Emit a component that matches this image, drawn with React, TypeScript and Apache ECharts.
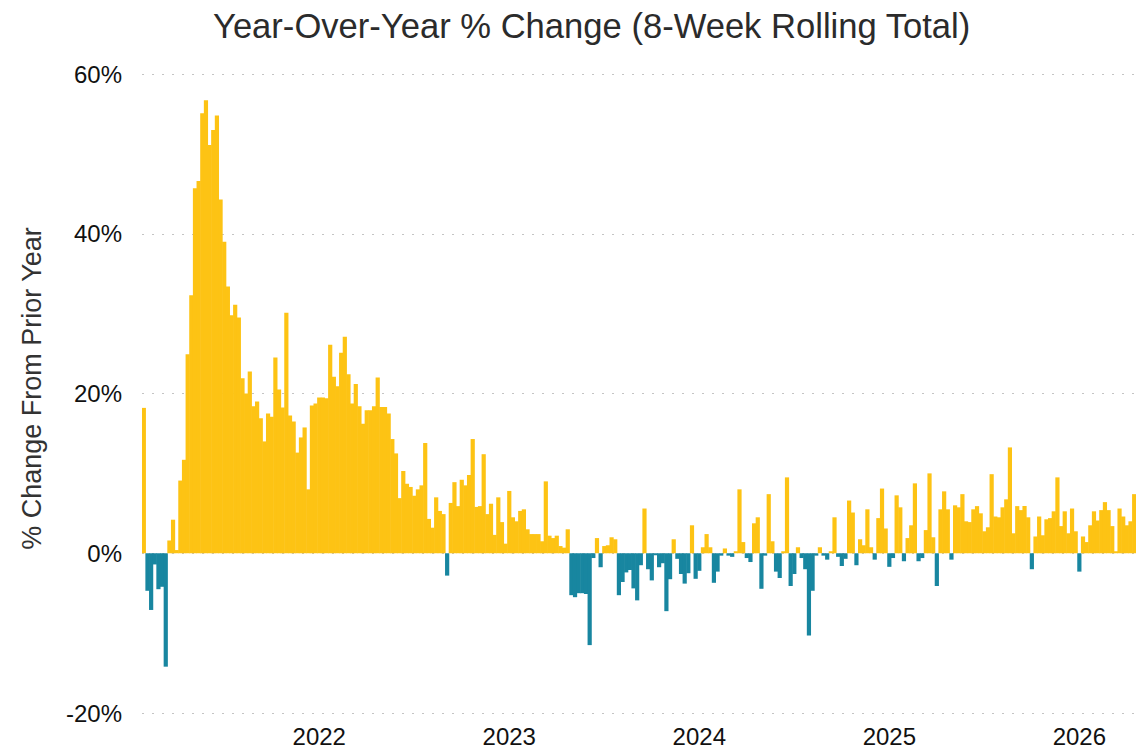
import React, { useEffect, useRef } from "react";
import * as echarts from "echarts";

// Weekly series start (first bar's week)
const START_YEAR = 2021;
const START_MONTH = 0; // January
const START_DAY = 30;

// Year-over-year % change, 8-week rolling total (one value per week)
const values2021a = [
  18.2, -4.7, -7.1, -1.4, -4.5, -4.2, -14.2, 1.6, 4.2, 0.4, 9.1, 11.7, 24.9, 32.3,
  45.7, 46.6, 55.1, 56.7, 51.1, 53.0, 54.8, 44.3, 39.0, 33.4, 29.8, 31.1, 29.5, 21.9,
];
const values2021b = [
  20.0, 22.75, 18.4, 19.0, 16.9, 14.0, 17.5, 17.1, 24.5, 20.5, 18.25, 30.1, 17.25, 16.5,
  12.6, 14.5, 15.75, 8.0, 18.5, 18.75, 19.5, 19.5, 19.4, 26.1, 22.1, 20.9, 25.1, 27.1,
  22.4, 18.75,
];
const values2022 = [
  21.2, 18.4, 16.2, 17.9, 17.9, 18.4, 22.0, 18.3, 18.3, 17.5, 14.3, 12.5, 6.9, 10.3,
  8.7, 8.3, 7.2, 8.0, 8.5, 13.8, 4.3, 3.2, 7.0, 5.3, 4.9, -2.8, 6.3, 8.9, 5.9,
];
const values2023a = [
  9.2, 8.5, 9.8, 14.3, 5.8, 5.9, 12.4, 4.9, 6.2, 2.3, 7.0, 3.9, 1.2, 7.8, 4.5, 4.0,
  5.3, 5.5, 3.0, 2.4, 2.4, 2.4, 1.5, 9.0, 2.2, 1.9, 2.2, 0.9, 0.7,
];
const values2023b = [
  3.0, -5.25, -5.5, -5.0, -5.0, -5.1, -11.5, -0.6, 1.9, -1.75, 0.9, 1.0, 2.0, 1.75,
  -5.25, -3.6, -2.4, -2.1, -4.4, -5.9, -1.5, 5.6, -2.0, -3.4, -0.25, -1.75, -1.25,
  -7.25, -3.25,
];
const values2024a = [
  1.75, -0.7, -2.6, -3.8, -2.5, 3.5, -3.2, -2.2, 0.75, 2.4, 0.75, -3.7, -2.3, -0.3,
  0.6, -0.3, -0.45, 0.25, 8.0, 1.4, -0.6, -1.1, 3.75, 4.5, -4.45, -0.3, 7.4, 1.5, -2.3,
];
const values2024b = [
  -3.1, 0.25, 9.5, -4.1, -2.6, 0.75, -0.6, -2.0, -10.3, -4.7, -0.3, 0.75, -0.3, -0.8,
  0.25, 4.5, -0.45, -1.6, -0.7, 6.6, 5.1, -1.5, 1.75, 1.0, 5.5, 0.75, -0.8, 4.4, 8.1,
];
const values2025 = [
  3.1, -1.7, -0.6, 7.25, 5.75, -1.0, 1.9, 3.5, 8.75, -1.0, -0.6, 2.9, 10.0, 2.0, -4.1,
  5.5, 7.75, 5.5, -0.8, 6.0, 5.75, 7.4, 4.0, 3.9, 5.5, 5.9, 5.0, 2.75, 3.25, 9.9, 4.6,
  4.5, 5.75, 6.75, 13.25,
];
const values2026 = [
  2.5, 5.9, 5.4, 5.9, 4.5, -2.0, 2.1, 4.6, 2.25, 4.25, 4.4, 5.25, 9.5, 3.4, 5.25, 2.5,
  5.6, 2.75, -2.3, 2.1, 1.4, 3.5, 5.25, 4.1, 5.4, 6.4, 5.4, 3.4, 0.25, 5.6, 4.6, 3.5,
  4.0, 7.4,
];

const values = [
  ...values2021a, ...values2021b, ...values2022, ...values2023a, ...values2023b,
  ...values2024a, ...values2024b, ...values2025, ...values2026,
];

// Week start dates (categories)
const weeks = values.map((_, i) =>
  new Date(Date.UTC(START_YEAR, START_MONTH, START_DAY + 7 * i)).toISOString().slice(0, 10)
);

// Year label shown on the week that contains January 1st
const yearOfWeekContainingJan1 = (dateStr: string): string | null => {
  const d = new Date(dateStr + "T00:00:00Z");
  const end = new Date(d.getTime() + 6 * 86400000);
  if (end.getUTCFullYear() !== d.getUTCFullYear()) return String(end.getUTCFullYear());
  if (d.getUTCMonth() === 0 && d.getUTCDate() === 1) return String(d.getUTCFullYear());
  return null;
};

const title = "Year-Over-Year % Change (8-Week Rolling Total)";
const yAxisName = "% Change From Prior Year";
const yTicks = { min: -20, max: 60, interval: 20 };

const POS_COLOR = "#FDC314";
const NEG_COLOR = "#1886A0";
const FONT = "'Liberation Sans', Arial, Helvetica, sans-serif";

export default function App() {
  const ref = useRef<HTMLDivElement>(null);

  useEffect(() => {
    if (!ref.current) return;
    const chart = echarts.init(ref.current, undefined, { renderer: "svg" });
    chart.setOption({
      animation: false,
      backgroundColor: "#ffffff",
      textStyle: { fontFamily: FONT },
      title: {
        text: title,
        left: 208,
        top: 3,
        textStyle: { fontSize: 34.6, fontWeight: "normal", color: "#2b2b2b", fontFamily: FONT },
      },
      grid: { left: 142, right: 0, top: 74, bottom: 38, containLabel: false },
      xAxis: {
        type: "category",
        data: weeks,
        axisLine: { show: false },
        axisTick: { show: false },
        splitLine: { show: false },
        axisLabel: {
          interval: (_idx: number, val: string) => yearOfWeekContainingJan1(val) !== null,
          formatter: (val: string) => yearOfWeekContainingJan1(val) || "",
          fontSize: 24,
          color: "#111",
          margin: 11,
          fontFamily: FONT,
        },
      },
      yAxis: {
        type: "value",
        min: yTicks.min,
        max: yTicks.max,
        interval: yTicks.interval,
        name: yAxisName,
        nameLocation: "middle",
        nameGap: 97,
        nameTextStyle: { fontSize: 27, color: "#333", fontFamily: FONT, padding: [0, 0, 0, 10] },
        axisLine: { show: false },
        axisTick: { show: false },
        axisLabel: { formatter: "{value}%", fontSize: 24, color: "#111", margin: 20, fontFamily: FONT },
        splitLine: { show: true, lineStyle: { type: [2, 8], color: "#c4c4c4", width: 1 } },
      },
      series: [
        {
          type: "bar",
          data: values.map((v) => ({ value: v, itemStyle: { color: v >= 0 ? POS_COLOR : NEG_COLOR } })),
          barCategoryGap: "0%",
          barWidth: "115%",
        },
      ],
    });
    return () => chart.dispose();
  }, []);

  return (
    <div
      ref={ref}
      style={{ position: "fixed", left: 0, top: 0, width: 1136, height: 751, background: "#fff" }}
    />
  );
}
